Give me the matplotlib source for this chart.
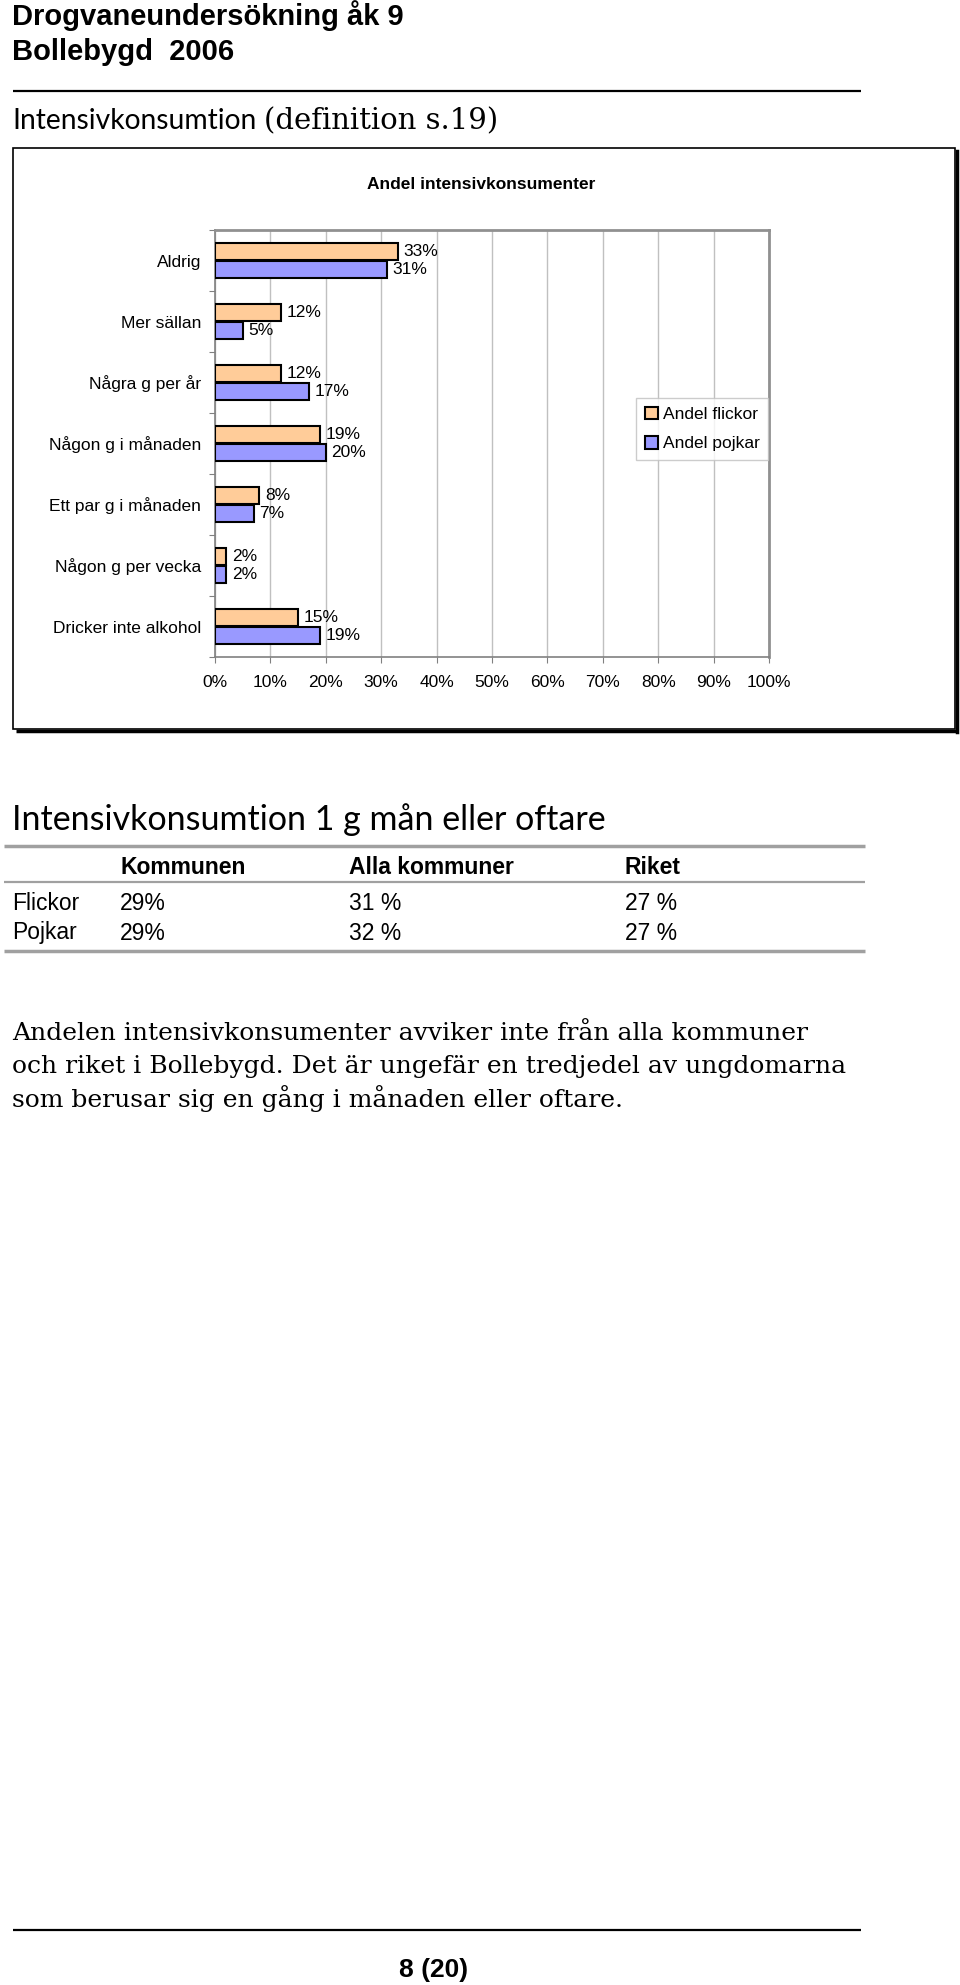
import numpy as np
import matplotlib.pyplot as plt
from matplotlib.lines import Line2D
from matplotlib.patches import Rectangle, Patch

# chart data
categories = ["Aldrig", "Mer sällan", "Några g per år", "Någon g i månaden",
              "Ett par g i månaden", "Någon g per vecka", "Dricker inte alkohol"]
flickor = [33, 12, 12, 19, 8, 2, 15]
pojkar = [31, 5, 17, 20, 7, 2, 19]
series_names = ["Andel flickor", "Andel pojkar"]

# table data
table_cols = ["Kommunen", "Alla kommuner", "Riket"]
table_rows = ["Flickor", "Pojkar"]
table_vals = [["29%", "31 %", "27 %"],
              ["29%", "32 %", "27 %"]]

body = ["Andelen intensivkonsumenter avviker inte från alla kommuner",
        "och riket i Bollebygd. Det är ungefär en tredjedel av ungdomarna",
        "som berusar sig en gång i månaden eller oftare."]

W, H = 960, 1985
plt.rcParams['font.family'] = ['Liberation Sans', 'DejaVu Sans']
fig = plt.figure(figsize=(W / 100, H / 100), dpi=100)


def fx(x):
    return x / W


def fy(y):
    return 1 - y / H


def hline(x0, x1, y, color='black', lw=1.5):
    fig.add_artist(Line2D([fx(x0), fx(x1)], [fy(y), fy(y)], color=color, lw=lw,
                          transform=fig.transFigure, solid_capstyle='butt'))


# page header
fig.text(fx(12), fy(16), "Drogvaneundersökning åk 9", fontsize=21, fontweight='bold', va='center')
fig.text(fx(12), fy(52), "Bollebygd  2006", fontsize=21, fontweight='bold', va='center')
hline(13, 861, 91, lw=1.6)

light = ['Lato', 'DejaVu Sans']
fig.text(fx(12), fy(121), "Intensivkonsumtion", fontsize=20.3, family=light, va='center')
fig.text(fx(264), fy(121), "(definition s.19)", fontsize=21, family=['DejaVu Serif'], va='center')

# chart frame with shadow
fig.add_artist(Rectangle((fx(13), fy(729)), (955 - 13) / W, (729 - 148) / H, fill=False,
                         ec='black', lw=1.2, transform=fig.transFigure))
hline(16, 958, 731, lw=2.5)
fig.add_artist(Line2D([fx(957), fx(957)], [fy(151), fy(732)], color='black', lw=2.5,
                      transform=fig.transFigure))

fig.text(fx(481), fy(184), "Andel intensivkonsumenter", fontsize=12.5, fontweight='bold',
         ha='center', va='center')

ax = fig.add_axes([fx(215), fy(657), (769 - 215) / W, (657 - 230) / H])
y = np.arange(len(categories))
bh = 0.287
ax.barh(y - bh / 2, np.array(flickor) / 100, height=bh, color='#FFCC99',
        edgecolor='black', lw=1.5, zorder=3, label=series_names[0])
ax.barh(y + bh / 2, np.array(pojkar) / 100, height=bh, color='#9999FF',
        edgecolor='black', lw=1.5, zorder=3, label=series_names[1])
for yi, f, p in zip(y, flickor, pojkar):
    ax.annotate(f"{f}%", (f / 100, yi - bh / 2), xytext=(4, 0), textcoords='offset points',
                va='center', ha='left', fontsize=12.5)
    ax.annotate(f"{p}%", (p / 100, yi + bh / 2), xytext=(4, 0), textcoords='offset points',
                va='center', ha='left', fontsize=12.5)

ax.set_xlim(0, 1)
ax.set_ylim(len(categories) - 0.5, -0.5)
ax.set_xticks(np.linspace(0, 1, 11))
ax.set_xticklabels([f"{int(round(t * 100))}%" for t in np.linspace(0, 1, 11)], fontsize=12.5)
ax.set_yticks(np.arange(len(categories) + 1) - 0.5)
ax.set_yticklabels([])
ax.set_yticks(y, minor=True)
ax.set_yticklabels(categories, minor=True, fontsize=12.5)
ax.tick_params(axis='y', which='major', length=4, color='#808080', direction='out')
ax.tick_params(axis='y', which='minor', length=0, pad=10)
ax.tick_params(axis='x', length=4, color='#808080', pad=9)
ax.grid(axis='x', color='#C0C0C0', lw=1, zorder=0)
for s in ['top', 'right']:
    ax.spines[s].set_color('#909090')
    ax.spines[s].set_linewidth(2)
for s in ['left', 'bottom']:
    ax.spines[s].set_color('#808080')
    ax.spines[s].set_linewidth(1.2)

handles = [Patch(facecolor='#FFCC99', edgecolor='black', lw=1.5),
           Patch(facecolor='#9999FF', edgecolor='black', lw=1.5)]
leg = fig.legend(handles, series_names, loc='upper left', bbox_to_anchor=(fx(636), fy(398)),
                 fontsize=12.5, frameon=True, fancybox=False, handlelength=0.75,
                 handleheight=0.75, handletextpad=0.3, labelspacing=0.8,
                 borderpad=0.5, borderaxespad=0)
leg.get_frame().set_edgecolor('#C0C0C0')
leg.get_frame().set_linewidth(1)

# table section
fig.text(fx(12), fy(820), "Intensivkonsumtion 1 g mån eller oftare", fontsize=24.5,
         family=light, va='center')
hline(4, 865, 846, color='#A0A0A0', lw=2.5)
hline(4, 865, 882, color='#A0A0A0', lw=1.6)
hline(4, 865, 951, color='#A0A0A0', lw=2.5)
col_x = [120, 349, 625]
for cx, name in zip(col_x, table_cols):
    fig.text(fx(cx), fy(867), name, fontsize=16.5, fontweight='bold', va='center')
for ry, rname, vals in zip([903, 933], table_rows, table_vals):
    fig.text(fx(12), fy(ry), rname, fontsize=16.5, va='center')
    for cx, v in zip(col_x, vals):
        fig.text(fx(cx), fy(ry), v, fontsize=16.5, va='center')

# body text
for i, line in enumerate(body):
    fig.text(fx(12), fy(1033 + 33 * i), line, fontsize=18, family=['DejaVu Serif'], va='center')

# footer
hline(13, 861, 1930, lw=1.6)
fig.text(fx(434), fy(1970), "8 (20)", fontsize=19, fontweight='bold', ha='center', va='center')

fig.savefig("out.png", dpi=100)
